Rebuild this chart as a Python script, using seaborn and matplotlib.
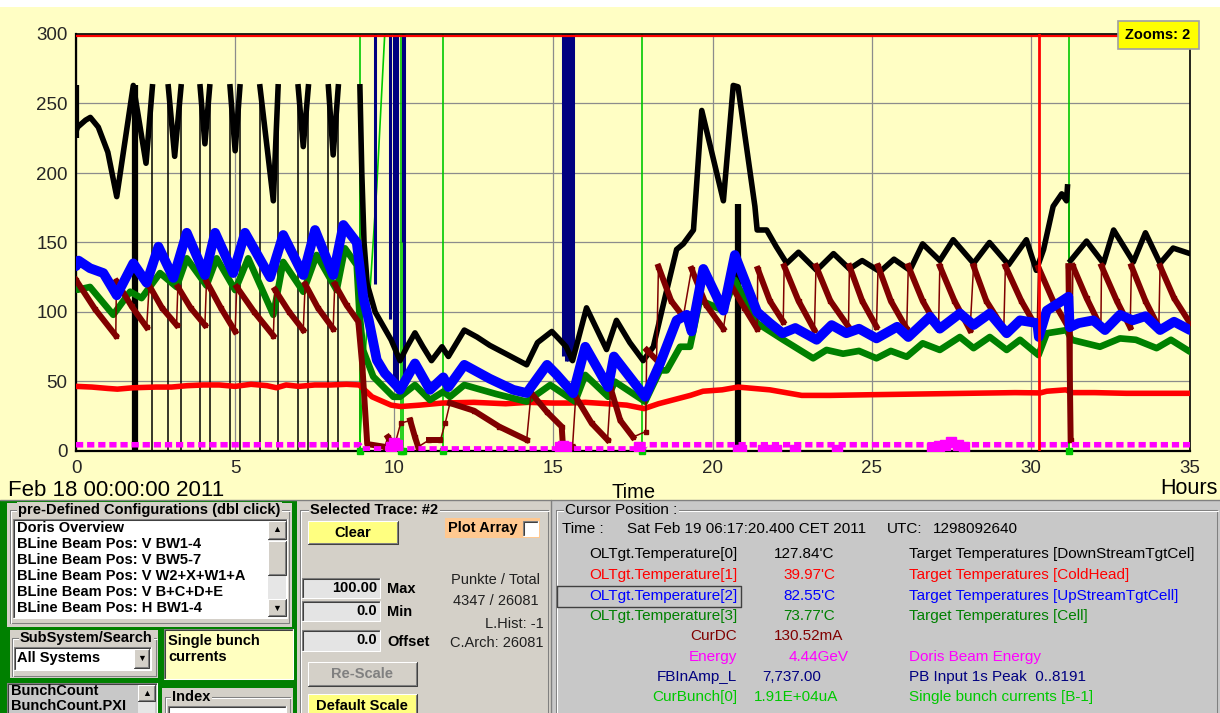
import numpy as np
import pandas as pd
import matplotlib
matplotlib.use('Agg')
import matplotlib.pyplot as plt
import seaborn as sns
from matplotlib.patches import Rectangle
from matplotlib.lines import Line2D
from matplotlib.transforms import Affine2D

nan = np.nan

# ---- trace data: (hours since Feb 18 00:00, value) ----
# OLTgt.Temperature[0] - DownStreamTgtCel (black), nan = gap in the trace
temp0_t = [0.0, 0.05, 0.3, 0.45, 0.7, 1.0, 1.28, 1.8, 2.2, 2.4, nan,
           2.9, 3.1, 3.3, nan, 3.9, 4.05, 4.2, nan, 4.84, 5.0, 5.15, nan,
           5.78, 6.2, 6.35, nan, 6.98, 7.14, 7.3, nan, 7.93, 8.08, 8.24, nan,
           8.92, 8.98, 9.05, 9.15, 9.4, 9.7, 9.9, 10.18, 10.4, 10.65, 10.9,
           11.17, 11.5, 11.7, 12.2, 12.6, 13.0, 13.5, 14.16, 14.5, 14.95, 15.2,
           15.4, 15.6, 16.04, 16.67, 16.98, 17.4, 17.82, 18.14, 18.5, 18.87,
           19.08, 19.4, 19.66, 20.34, 20.65, 20.8, 21.33, 21.4, 21.7, 22.0,
           22.33, 22.7, 23.27, 23.8, 24.3, 24.7, 25.26, 25.7, 26.2, 26.6,
           27.14, 27.56, 28.2, 28.7, 29.3, 29.86, 30.17, 30.4, 30.7, 30.97,
           31.12, 31.15, nan,
           31.25, 31.75, 32.28, 32.6, 33.22, 33.6, 34.06, 34.47, 35.0]
temp0_v = [230, 233, 238, 240, 233, 215, 183, 263, 207, 262, nan,
           262, 212, 262, nan, 262, 221, 262, nan, 262, 216, 262, nan,
           262, 180, 262, nan, 262, 219, 262, nan, 262, 213, 262, nan,
           262, 200, 150, 120, 100, 88, 80, 65, 75, 85, 75,
           65, 75, 68, 87, 82, 76, 70, 62, 78, 86, 80,
           75, 65, 103, 73, 94, 78, 65, 75, 110, 145,
           149, 159, 245, 180, 263, 262, 176, 159, 159, 147,
           135, 143, 130, 142, 131, 137, 129, 138, 130, 149,
           137, 152, 135, 150, 134, 152, 130, 145, 176, 185,
           180, 190, nan,
           137, 151, 135, 159, 136, 157, 135, 146, 142]
# thin black drops to zero between the bursts
temp0_drop_t = [1.8, 2.4, 2.9, 3.3, 3.9, 4.2, 4.84, 5.15, 5.78, 6.35, 6.98, 7.3, 7.93, 8.24, 8.92, 31.2]
temp0_drop_lo = [0, 0, 0, 0, 0, 0, 0, 0, 0, 0, 0, 0, 0, 0, 0, 5]
temp0_drop_hi = [263, 262, 262, 262, 262, 262, 262, 262, 262, 262, 262, 262, 262, 262, 262, 190]
# dense drops that show up as solid bars
temp0_bar_t = [0.0, 1.84, 20.8]
temp0_bar_lo = [225, 0, 0]
temp0_bar_hi = [263, 263, 178]

# OLTgt.Temperature[1] - ColdHead (red)
temp1 = [(0, 46.5), (0.5, 46), (1.0, 45), (1.3, 44.5), (1.8, 45.5), (2.5, 46), (3.0, 46),
         (3.5, 47), (4.0, 47.5), (4.5, 47.5), (5.0, 46.5), (5.5, 48), (6.0, 47), (6.3, 45.5),
         (6.6, 47.5), (7.0, 46.5), (7.5, 47.5), (8.0, 47.5), (8.5, 48), (8.9, 47.5), (9.3, 39),
         (9.6, 36), (9.9, 33), (10.2, 32), (10.8, 33), (11.5, 34.5), (12.5, 35), (13.5, 34),
         (14.2, 35), (15.0, 34.5), (15.5, 34.5), (16.0, 35), (16.7, 34), (17.3, 33), (17.85, 30.5),
         (18.3, 34), (18.8, 37), (19.3, 40), (19.7, 43), (20.3, 44), (20.8, 46), (21.3, 45),
         (21.8, 44), (22.3, 42), (22.8, 40), (23.7, 40), (25.0, 40.5), (26.5, 41), (28.0, 41.5),
         (29.5, 42), (30.3, 41.8), (30.5, 43), (30.8, 43.5), (31.1, 44), (31.3, 42), (32.0, 42),
         (33.0, 41.5), (34.0, 41.5), (35.0, 41.5)]

# OLTgt.Temperature[2] - UpStreamTgtCell (blue)
temp2 = [(0.0, 133), (0.08, 137), (0.44, 131.5), (0.86, 128), (1.28, 112), (1.8, 135), (2.22, 121),
         (2.59, 147), (3.06, 124.5), (3.48, 157), (4.05, 126.6), (4.37, 157), (4.94, 128), (5.31, 157),
         (6.1, 125), (6.51, 155.4), (7.14, 126.6), (7.51, 159), (8.08, 126.6), (8.4, 162.6), (8.82, 150),
         (9.03, 110), (9.2, 94), (9.45, 65.5), (9.7, 56), (10.07, 47), (10.18, 44), (10.65, 63),
         (11.12, 44), (11.54, 53), (11.7, 46), (12.2, 62), (13.0, 52), (13.74, 44), (14.16, 41.7),
         (14.8, 62), (15.1, 55), (15.62, 41.5), (16.0, 75), (16.72, 46), (16.9, 68), (17.88, 39),
         (18.35, 63), (18.87, 94), (19.19, 98), (19.34, 86), (19.71, 131), (20.34, 101), (20.7, 141),
         (21.4, 100), (21.8, 92), (22.2, 84.7), (22.6, 88.5), (23.27, 80), (23.74, 90.6), (24.2, 84.7),
         (24.6, 88), (25.15, 81), (25.8, 89.4), (26.15, 82), (26.83, 96.6), (27.14, 88), (27.77, 99),
         (28.2, 90.6), (28.71, 99), (29.24, 84.7), (29.66, 94), (30.2, 92), (30.25, 82), (30.5, 101),
         (31.02, 108.6), (31.18, 111), (31.22, 89), (31.5, 92), (31.96, 94), (32.33, 87), (32.8, 98),
         (33.2, 94), (33.6, 97), (34.06, 87), (34.5, 93), (35.0, 87)]

# OLTgt.Temperature[3] - Cell (green)
temp3 = [(0.0, 122), (0.05, 116), (0.44, 118), (1.17, 98), (1.7, 114.6), (2.06, 110), (2.64, 128),
         (3.16, 118), (3.48, 138.6), (4.1, 119), (4.42, 138.6), (5.0, 115.8), (5.41, 138.6), (6.2, 98),
         (6.51, 136), (7.14, 114.6), (7.56, 141), (8.19, 115.8), (8.45, 145.8), (8.82, 133.8), (8.9, 101),
         (9.02, 72.6), (9.34, 53.5), (9.97, 39), (10.18, 39), (10.65, 47.5), (11.12, 36.7), (11.54, 42.7),
         (11.75, 39), (12.2, 47.5), (13.2, 41), (14.16, 35.5), (14.9, 47.5), (15.68, 35.5), (16.0, 54.7),
         (16.72, 39), (16.93, 49.9), (17.88, 35.5), (18.35, 58), (18.56, 58), (18.98, 75), (19.29, 75),
         (19.6, 108.6), (20.34, 101), (20.7, 123), (21.4, 92), (22.22, 80), (23.16, 66.7), (23.58, 72.7),
         (24.1, 70), (24.6, 72), (25.15, 66.7), (25.6, 72), (26.1, 67.8), (26.6, 77.5), (27.14, 72.7),
         (27.77, 82), (28.2, 74), (28.71, 82), (29.24, 72.7), (29.66, 80), (30.24, 69), (30.5, 84.7),
         (31.13, 87), (31.28, 80), (32.17, 75), (32.8, 81), (33.3, 80), (33.95, 74), (34.4, 80), (35.0, 71.4)]

# CurDC beam current (maroon), refills show as thin jumps
curdc = [(0.0, 123), (0.6, 102), (1.25, 83), (1.27, 122), (1.75, 104), (2.22, 89), (2.3, 119),
         (2.7, 103), (3.16, 90.6), (3.2, 118), (3.6, 103), (4.05, 90.6), (4.1, 122), (4.55, 103),
         (5.0, 86), (5.05, 118), (5.6, 100), (6.2, 83), (6.25, 116), (6.7, 100), (7.14, 87),
         (7.2, 120), (7.6, 103), (8.08, 88), (8.13, 120), (8.5, 105), (8.87, 93), (9.0, 60),
         (9.15, 5), (9.7, 3), (9.8, 10), (10.0, 3), (10.2, 20), (10.5, 22), (10.65, 10), (10.75, 3),
         (11.1, 8), (11.45, 8), (11.6, 20), (11.75, 34.5), (12.5, 29), (13.3, 17.5), (14.16, 8),
         (14.3, 41.7), (14.8, 28), (15.26, 17.5), (15.3, 3), (15.6, 3), (15.7, 39), (16.2, 20),
         (16.7, 8), (16.8, 45), (17.1, 22), (17.5, 10), (17.9, 14), (17.93, 72.7), (18.24, 65.5),
         (18.3, 132.6), (18.7, 108), (19.08, 96.6), (19.34, 131), (19.8, 105), (20.34, 88),
         (20.55, 120.6), (21.0, 103), (21.4, 88), (21.42, 131), (21.8, 108), (22.22, 93), (22.25, 133),
         (22.7, 108), (23.2, 87), (23.25, 133), (23.7, 108), (24.27, 89.4), (24.3, 133), (24.7, 108),
         (25.15, 89.4), (25.2, 133), (25.6, 108), (26.1, 88), (26.15, 133), (26.6, 108), (27.1, 88),
         (27.14, 133), (27.6, 108), (28.09, 87), (28.2, 133), (28.6, 108), (29.15, 88), (29.2, 133),
         (29.7, 108), (30.2, 88), (30.24, 132), (30.7, 108), (31.15, 90), (31.18, 133), (31.25, 8),
         (31.32, 133), (31.75, 110), (32.2, 89), (32.22, 133), (32.7, 108), (33.12, 89), (33.16, 133),
         (33.6, 108), (34.02, 89), (34.06, 133), (34.5, 110), (35.0, 92)]

# Doris beam energy (magenta)
energy = [(0.0, 4.5), (8.9, 4.5), (9.0, 1.5), (17.8, 1.5), (17.9, 4.5), (35.0, 4.5)]
energy_blob_t = [9.9, 10.0, 10.1, 15.2, 15.3, 15.4, 17.7, 20.8, 20.9, 21.6, 21.8, 22.0, 22.6, 23.9,
                 26.9, 27.1, 27.3, 27.5, 27.7, 27.9]
energy_blob_v = [3, 5.5, 4, 3, 3.5, 3, 3, 0.5, 0.5, 1, 1, 1, 0.5, 0.5, 2.5, 3.5, 4.5, 6.5, 4.5, 3]

# CurBunch[0] (light green) off-scale spikes
curbunch_spike_t = [8.92, 10.2, 10.27, 11.54, 17.77, 31.2]
curbunch_ramp = [(8.9, 0), (9.05, 60), (9.25, 120), (9.45, 190), (9.7, 300)]

# FBInAmp_L (navy) off-scale spikes
fbamp_t = [9.4, 9.86, 10.0, 10.04, 10.08, 10.28, 10.32, 15.31, 15.4, 15.45, 15.5, 15.55, 15.6]
fbamp_lo = [120, 95, 45, 45, 48, 150, 55, 68, 65, 65, 66, 68, 72]

cursor_t = 30.27
x_ticks = [0, 5, 10, 15, 20, 25, 30, 35]
y_ticks = [0, 50, 100, 150, 200, 250, 300]

list_items = ["Doris Overview", "BLine Beam Pos: V BW1-4", "BLine Beam Pos: V BW5-7",
              "BLine Beam Pos: V W2+X+W1+A", "BLine Beam Pos: V B+C+D+E", "BLine Beam Pos: H BW1-4"]
cursor_names = ["OLTgt.Temperature[0]", "OLTgt.Temperature[1]", "OLTgt.Temperature[2]",
                "OLTgt.Temperature[3]", "CurDC", "Energy", "FBInAmp_L", "CurBunch[0]"]
cursor_values = ["127.84'C", "39.97'C", "82.55'C", "73.77'C", "130.52mA", "4.44GeV", "7,737.00", "1.91E+04uA"]
cursor_desc = ["Target Temperatures [DownStreamTgtCel]", "Target Temperatures [ColdHead]",
               "Target Temperatures [UpStreamTgtCell]", "Target Temperatures [Cell]", "",
               "Doris Beam Energy", "PB Input 1s Peak  0..8191", "Single bunch currents [B-1]"]

C_BLACK, C_RED, C_BLUE, C_GREEN = '#000000', '#FF0000', '#0000FF', '#008000'
C_MAROON, C_MAG, C_NAVY, C_LGREEN = '#800000', '#FF00FF', '#000080', '#00C800'
cursor_colors = [C_BLACK, C_RED, C_BLUE, C_GREEN, C_MAROON, C_MAG, C_NAVY, C_LGREEN]
YELLOW_BG = '#FFFEC4'
GRAY = '#D4D0C8'

sns.set_style('white')
plt.rcParams['font.family'] = ['Liberation Sans', 'DejaVu Sans']

W, H = 1220, 713
fig = plt.figure(figsize=(W / 100, H / 100), dpi=100)
fig.patch.set_facecolor(GRAY)
pix = Affine2D().scale(1.0 / W, -1.0 / H).translate(0, 1) + fig.transFigure


def box(x0, y0, x1, y1, fc, ec='none', lw=0.0, z=0.5):
    fig.add_artist(Rectangle((x0, y0), x1 - x0, y1 - y0, transform=pix, fc=fc, ec=ec, lw=lw, zorder=z))


def line(xs, ys, c, lw=0.75, z=1):
    fig.add_artist(Line2D(xs, ys, transform=pix, color=c, lw=lw, zorder=z))


def raised(x0, y0, x1, y1, fc, z=1):
    box(x0, y0, x1, y1, fc, z=z)
    line([x0, x0, x1], [y1, y0, y0], 'white', z=z)
    line([x0, x1, x1], [y1, y1, y0], '#404040', z=z)
    line([x0 + 1, x1 - 1, x1 - 1], [y1 - 1, y1 - 1, y0 + 1], '#808080', z=z)


def sunken(x0, y0, x1, y1, fc, z=1):
    box(x0, y0, x1, y1, fc, z=z)
    line([x0, x0, x1], [y1, y0, y0], '#808080', z=z)
    line([x0 + 1, x0 + 1, x1 - 1], [y1 - 1, y0 + 1, y0 + 1], '#404040', z=z)
    line([x0, x1, x1], [y1, y1, y0], 'white', z=z)


def label(x, y, s, size=10, weight='normal', color='black', ha='left', bg=None, z=3):
    kw = {}
    if bg:
        kw['bbox'] = dict(fc=bg, ec='none', pad=1.0)
    fig.text(x, y, s, transform=pix, fontsize=size, fontweight=weight, color=color,
             ha=ha, va='center', zorder=z, **kw)


def frame(x0, y0, x1, y1, z=2):
    line([x0, x1, x1, x0, x0], [y0, y0, y1, y1, y0], '#808080', z=z)
    line([x0 + 1, x1 + 1], [y0 + 1, y0 + 1], 'white', z=z)
    line([x0 + 1, x0 + 1], [y0 + 1, y1], 'white', z=z)


# background of the plot window
box(0, 0, W, 7, 'white', z=-2)
box(0, 7, W, 500, YELLOW_BG, z=-2)

ax = fig.add_axes([76 / W, 1 - 451 / H, (1190 - 76) / W, (451 - 34) / H])
ax.set_facecolor(YELLOW_BG)

# black trace: nan separated pieces
t0 = np.asarray(temp0_t, float)
v0 = np.asarray(temp0_v, float)
ok = ~np.isnan(t0)
df0 = pd.DataFrame({'t': t0[ok], 'v': v0[ok], 'seg': np.cumsum(np.isnan(t0))[ok]})
ax.vlines(temp0_drop_t, temp0_drop_lo, temp0_drop_hi, color=C_BLACK, lw=1.1, zorder=1.5)
ax.vlines(temp0_bar_t, temp0_bar_lo, temp0_bar_hi, color=C_BLACK, lw=4.5, zorder=1.5)
sns.lineplot(data=df0, x='t', y='v', units='seg', estimator=None, sort=False, ax=ax,
             color=C_BLACK, linewidth=4.0, solid_capstyle='projecting', zorder=2, legend=False)

# off-scale spikes of curbunch / fb amplitude
ax.vlines(curbunch_spike_t, 0, 300, color=C_LGREEN, lw=1.2, zorder=1.6)
cb = pd.DataFrame(curbunch_ramp, columns=['t', 'v'])
sns.lineplot(data=cb, x='t', y='v', sort=False, estimator=None, ax=ax, color=C_LGREEN,
             linewidth=1.2, zorder=1.6, legend=False)
ax.plot(curbunch_spike_t, np.zeros(len(curbunch_spike_t)), 's', color=C_LGREEN, ms=5, zorder=7, clip_on=False)
ax.vlines(fbamp_t, fbamp_lo, 300, color=C_NAVY, lw=2.2, zorder=1.7)

# red coldhead
d1 = pd.DataFrame(temp1, columns=['t', 'v'])
sns.lineplot(data=d1, x='t', y='v', sort=False, estimator=None, ax=ax, color=C_RED,
             linewidth=4.0, zorder=3, legend=False)

# green cell
d3 = pd.DataFrame(temp3, columns=['t', 'v'])
sns.lineplot(data=d3, x='t', y='v', sort=False, estimator=None, ax=ax, color=C_GREEN,
             linewidth=4.8, zorder=4, legend=False)

# maroon beam current: thin connectors everywhere, thick along the decays
dc = pd.DataFrame(curdc, columns=['t', 'v'])
ax.plot(dc['t'], dc['v'], color=C_MAROON, lw=1.1, marker='s', ms=3.4, zorder=5)
rising = np.r_[False, np.diff(dc['v'].to_numpy()) > 0]
dc['seg'] = np.cumsum(rising)
sns.lineplot(data=dc, x='t', y='v', units='seg', estimator=None, sort=False, ax=ax,
             color=C_MAROON, linewidth=4.3, solid_capstyle='projecting', zorder=5, legend=False)

# blue upstream cell
d2 = pd.DataFrame(temp2, columns=['t', 'v'])
sns.lineplot(data=d2, x='t', y='v', sort=False, estimator=None, ax=ax, color=C_BLUE,
             linewidth=7.0, zorder=6, legend=False)

# magenta beam energy
de = pd.DataFrame(energy, columns=['t', 'v'])
ax.plot(de['t'], de['v'], color=C_MAG, lw=4.0, ls=(0, (1.3, 0.7)), solid_capstyle='butt',
        dash_capstyle='butt', zorder=7)
ax.plot(energy_blob_t, energy_blob_v, 's', color=C_MAG, ms=6.5, zorder=7)

# limit line, cursor
ax.axhline(298.9, color=C_RED, lw=1.6, zorder=8)
ax.axvline(cursor_t, color=C_RED, lw=2.0, zorder=8)

ax.set_xlim(0, 35)
ax.set_ylim(0, 300)
ax.set_xticks(x_ticks)
ax.set_yticks(y_ticks)
ax.set_xticks(np.arange(0, 36, 1), minor=True)
ax.set_xlabel('')
ax.set_ylabel('')
ax.grid(True, color='#8C8C8C', lw=0.9)
ax.set_axisbelow(True)
ax.tick_params(axis='y', direction='out', length=4.5, width=1.2, pad=1.5, labelsize=13.5)
ax.tick_params(axis='x', which='major', direction='in', length=4, width=1.0, pad=6.5, labelsize=13.5)
ax.tick_params(axis='x', which='minor', direction='in', length=2.5, width=0.8)
for side, w in (('left', 1.6), ('bottom', 1.6), ('top', 1.2), ('right', 1.2)):
    ax.spines[side].set_color('black')
    ax.spines[side].set_linewidth(w)
    ax.spines[side].set_visible(True)

label(8, 490, 'Feb 18 00:00:00 2011', size=16)
label(634, 492, 'Time', size=14.5, ha='center')
label(1160, 488, 'Hours', size=15.5)

box(1118, 21, 1199, 49, '#FFFF00', ec='#A0A0A0', lw=1.2, z=5)
label(1158, 35, 'Zooms: 2', size=10.5, weight='bold', ha='center', z=6)

# ---- lower control panel ----
box(0, 500, 297, H, '#008000', z=0.2)
box(297, 500, 551, H, GRAY, z=0.2)
box(551, 500, W, H, '#C8C8C8', z=0.2)
line([0, W], [500, 500], '#808080', lw=1.0)
line([551, 551], [500, H], '#808080', lw=1.0)

# configurations list
box(7, 503, 292, 627, GRAY)
frame(10, 510, 289, 623)
label(18, 510, 'pre-Defined Configurations (dbl click)', size=10.5, weight='bold', bg=GRAY)
sunken(13, 519, 287, 618, 'white')
for i, item in enumerate(list_items):
    label(17, 528 + i * 16.1, item, size=10.5, weight='bold', z=4)
box(268, 521, 286, 616, '#E6E6E6', z=4)
raised(268, 521, 286, 539, GRAY, z=4)
raised(268, 541, 286, 575, GRAY, z=4)
raised(268, 599, 286, 616, GRAY, z=4)
label(277, 530, '\u25b2', size=6.5, ha='center', z=5)
label(277, 608, '\u25bc', size=6.5, ha='center', z=5)

# subsystem search
box(10, 630, 158, 678, GRAY)
frame(12, 638, 156, 676)
label(20, 638, 'SubSystem/Search', size=10.5, weight='bold', bg=GRAY)
sunken(14, 647, 151, 670, 'white')
label(17, 658, 'All Systems', size=10.5, weight='bold', z=4)
raised(134, 649, 149, 668, GRAY, z=4)
label(141.5, 658.5, '\u25bc', size=6.5, ha='center', z=5)
sunken(164, 629, 293, 679, '#FFFFC0')
label(168, 641, 'Single bunch', size=10.5, weight='bold', z=4)
label(168, 657, 'currents', size=10.5, weight='bold', z=4)

# trace list and index
sunken(7, 683, 157, 716, '#C8C8C8')
label(11, 691, 'BunchCount', size=10.5, weight='bold', z=4)
label(11, 706, 'BunchCount.PXI', size=10.5, weight='bold', z=4)
box(138, 685, 155, 716, '#E6E6E6', z=4)
raised(138, 685, 155, 701, GRAY, z=4)
label(146.5, 693, '\u25b2', size=6.5, ha='center', z=5)
box(162, 688, 293, 716, GRAY)
frame(165, 697, 290, 716)
label(172, 697, 'Index', size=10.5, weight='bold', bg=GRAY)
sunken(168, 706, 286, 716, 'white')

# selected trace panel
frame(300, 510, 548, 716)
label(310, 510, 'Selected Trace: #2', size=10.5, weight='bold', bg=GRAY)
raised(308, 521, 398, 544, '#FFFF80')
label(353, 533, 'Clear', size=10.5, weight='bold', ha='center')
box(445, 518, 540, 538, '#FFC890', z=1)
label(448, 528, 'Plot Array', size=10.5, weight='bold')
sunken(523, 521, 538, 536, 'white')
for y0, y1, val, name in ((578, 598, '100.00', 'Max'), (601, 621, '0.0', 'Min'), (630, 651, '0.0', 'Offset')):
    sunken(302, y0, 380, y1, '#E4E4E4')
    label(377, (y0 + y1) / 2, val, size=10.5, weight='bold', ha='right')
    label(387, (y0 + y1) / 2 + 1, name, size=10.5, weight='bold')
label(540, 580, 'Punkte / Total', size=10.5, color='#202020', ha='right')
label(539, 601, '4347 / 26081', size=10.5, color='#202020', ha='right')
label(544, 624, 'L.Hist: -1', size=10.5, color='#202020', ha='right')
label(544, 643, 'C.Arch: 26081', size=10.5, color='#202020', ha='right')
raised(308, 662, 417, 686, GRAY)
label(362, 674, 'Re-Scale', size=10.5, weight='bold', color='#808080', ha='center')
raised(308, 694, 417, 720, '#FFFF80')
label(362, 706, 'Default Scale', size=10.5, weight='bold', ha='center')

# cursor position panel
frame(556, 510, 1217, 716)
label(565, 510, 'Cursor Position :', size=11, bg='#C8C8C8')
label(562, 529, 'Time :', size=11)
label(627, 529, 'Sat Feb 19 06:17:20.400 CET 2011', size=11)
label(887, 529, 'UTC:', size=11)
label(933, 529, '1298092640', size=11)
row_y = [554, 575, 596, 616, 636, 657, 677, 697]
val_x = [774, 783, 783, 783, 774, 789, 762, 754]
for y, name, val, vx, desc, col in zip(row_y, cursor_names, cursor_values, val_x, cursor_desc, cursor_colors):
    label(737, y, name, size=11, color=col, ha='right')
    label(vx, y, val, size=11, color=col)
    if desc:
        label(909, y, desc, size=11, color=col)
line([557, 741, 741, 557, 557], [586, 586, 607, 607, 586], '#404040', lw=1.0, z=3)

fig.savefig('out.png', dpi=100, facecolor=fig.get_facecolor())
